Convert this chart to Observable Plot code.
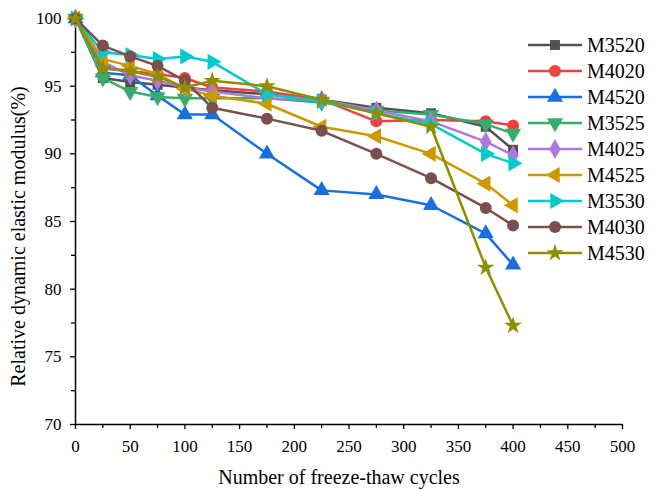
<!DOCTYPE html>
<html>
<head>
<meta charset="utf-8">
<script src="https://cdn.jsdelivr.net/npm/d3@7"></script>
<script src="https://cdn.jsdelivr.net/npm/@observablehq/plot@0.6"></script>
<style>
  html, body { margin: 0; padding: 0; background: #fff; }
  #wrap { position: relative; width: 654px; height: 490px; }
  #legend { position: absolute; left: 0; top: 0; pointer-events: none; }
</style>
</head>
<body>
<div id="wrap"></div>
<script>
// ---- data ----
const cycles = [0, 25, 50, 75, 100, 125, 175, 225, 275, 325, 375, 400];
const seriesNames = ["M3520", "M4020", "M4520", "M3525", "M4025", "M4525", "M3530", "M4030", "M4530"];
const M3520 = [100, 95.6, 95.3, 95.1, 94.9, 94.7, 94.4, 94.0, 93.4, 93.0, 92.0, 90.3];
const M4020 = [100, 96.4, 96.1, 95.9, 95.6, 94.9, 94.6, 94.0, 92.4, 92.5, 92.4, 92.1];
const M4520 = [100, 96.0, 95.8, 94.3, 92.9, 92.9, 90.0, 87.3, 87.0, 86.2, 84.1, 81.8];
const M3525 = [100, 95.6, 94.6, 94.2, 94.1, 94.1, 94.1, 93.8, 93.2, 92.9, 92.2, 91.5];
const M4025 = [100, 96.8, 95.8, 95.4, 94.9, 94.6, 94.1, 94.0, 93.2, 92.4, 90.9, 89.9];
const M4525 = [100, 97.0, 96.5, 95.9, 94.8, 94.3, 93.7, 92.0, 91.3, 90.0, 87.8, 86.2];
const M3530 = [100, 97.5, 97.3, 97.0, 97.2, 96.8, 94.4, 93.9, 93.0, 92.2, 90.0, 89.3];
const M4030 = [100, 98.0, 97.2, 96.5, 95.4, 93.4, 92.6, 91.7, 90.0, 88.2, 86.0, 84.7];
const M4530 = [100, 96.3, 96.1, 95.7, 94.9, 95.4, 95.0, 94.0, 93.0, 92.0, 81.6, 77.3];
const seriesValues = [M3520, M4020, M4520, M3525, M4025, M4525, M3530, M4030, M4530];
const xTicks = [0, 50, 100, 150, 200, 250, 300, 350, 400, 450, 500];
const yTicks = [70, 75, 80, 85, 90, 95, 100];
const xMinor = [25, 75, 125, 175, 225, 275, 325, 375, 425, 475];
const yMinor = [72.5, 77.5, 82.5, 87.5, 92.5, 97.5];
const xLabel = "Number of freeze-thaw cycles";
const yLabel = "Relative dynamic elastic modulus(%)";

// ---- styles ----
const colors = ["#515151", "#F14040", "#1A6FDF", "#37AD6B", "#B177DE", "#CC9900", "#00CBCC", "#7D4E4E", "#8E8E00"];
const sqrt3 = Math.sqrt(3);
const triDown = {draw(ctx, size) { const y = -Math.sqrt(size / (sqrt3 * 3)); ctx.moveTo(0, -2 * y); ctx.lineTo(-sqrt3 * y, y); ctx.lineTo(sqrt3 * y, y); ctx.closePath(); }};
const triLeft = {draw(ctx, size) { const y = -Math.sqrt(size / (sqrt3 * 3)); ctx.moveTo(2 * y, 0); ctx.lineTo(-y, -sqrt3 * y); ctx.lineTo(-y, sqrt3 * y); ctx.closePath(); }};
const triRight = {draw(ctx, size) { const y = -Math.sqrt(size / (sqrt3 * 3)); ctx.moveTo(-2 * y, 0); ctx.lineTo(y, -sqrt3 * y); ctx.lineTo(y, sqrt3 * y); ctx.closePath(); }};
const symbols = [d3.symbolSquare, d3.symbolCircle, d3.symbolTriangle, triDown, d3.symbolDiamond, triLeft, triRight, d3.symbolCircle, d3.symbolStar];
const symbolR = [5.6, 6, 6, 6, 6, 6, 6, 6, 5.5];

const font = "'Liberation Serif', 'Times New Roman', serif";

const rows = seriesNames.map((name, i) => cycles.map((c, j) => ({series: name, cycle: c, value: seriesValues[i][j]})));

const seriesMarks = rows.flatMap((data, i) => [
  Plot.line(data, {x: "cycle", y: "value", stroke: colors[i], strokeWidth: 2.5}),
  Plot.dot(data, {x: "cycle", y: "value", fill: colors[i], symbol: symbols[i], r: symbolR[i]})
]);

const chart = Plot.plot({
  width: 654,
  height: 490,
  marginLeft: 75,
  marginRight: 32,
  marginTop: 18,
  marginBottom: 66,
  x: {domain: [0, 500]},
  y: {domain: [70, 100]},
  style: {fontFamily: font, fontSize: "17px", color: "#000", background: "#fff"},
  marks: [
    Plot.axisX({ticks: xTicks, tickSize: 5, tickPadding: 10, tickFormat: d => String(d), label: null, fontSize: 17, strokeWidth: 1.3}),
    Plot.axisX({ticks: xMinor, tickSize: 4, text: null, label: null, strokeWidth: 1.3}),
    Plot.axisY({ticks: yTicks, tickSize: 5, tickPadding: 9, tickFormat: d => String(d), label: null, fontSize: 17, strokeWidth: 1.3}),
    Plot.axisY({ticks: yMinor, tickSize: 4, text: null, label: null, strokeWidth: 1.3}),
    Plot.ruleX([0], {strokeWidth: 1.5}),
    Plot.ruleY([70], {strokeWidth: 1.5}),
    ...seriesMarks,
    Plot.text([xLabel], {frameAnchor: "bottom", lineAnchor: "middle", textAnchor: "middle", dy: 53, dx: -10, fontSize: 20, fontFamily: font}),
    Plot.text([yLabel], {frameAnchor: "left", lineAnchor: "middle", textAnchor: "middle", dx: -57, dy: 15, rotate: -90, fontSize: 20, fontFamily: font})
  ]
});

const wrap = document.getElementById("wrap");
wrap.appendChild(chart);

// ---- legend overlay ----
const legend = d3.select(wrap).append("svg")
  .attr("id", "legend").attr("width", 654).attr("height", 490);
const lx0 = 528, lx1 = 582, lxm = 555, ltx = 587, ly0 = 45, lstep = 26;
seriesNames.forEach((name, i) => {
  const g = legend.append("g").attr("transform", `translate(0,${ly0 + i * lstep})`);
  g.append("line").attr("x1", lx0).attr("x2", lx1).attr("y1", 0).attr("y2", 0)
    .attr("stroke", colors[i]).attr("stroke-width", 2.5);
  g.append("path").attr("transform", `translate(${lxm},0)`)
    .attr("d", d3.symbol(symbols[i], Math.PI * symbolR[i] * symbolR[i])())
    .attr("fill", colors[i]);
  g.append("text").attr("x", ltx).attr("y", 0).attr("dy", "0.35em")
    .attr("font-family", font).attr("font-size", 20).attr("fill", "#000").text(name);
});
</script>
</body>
</html>
